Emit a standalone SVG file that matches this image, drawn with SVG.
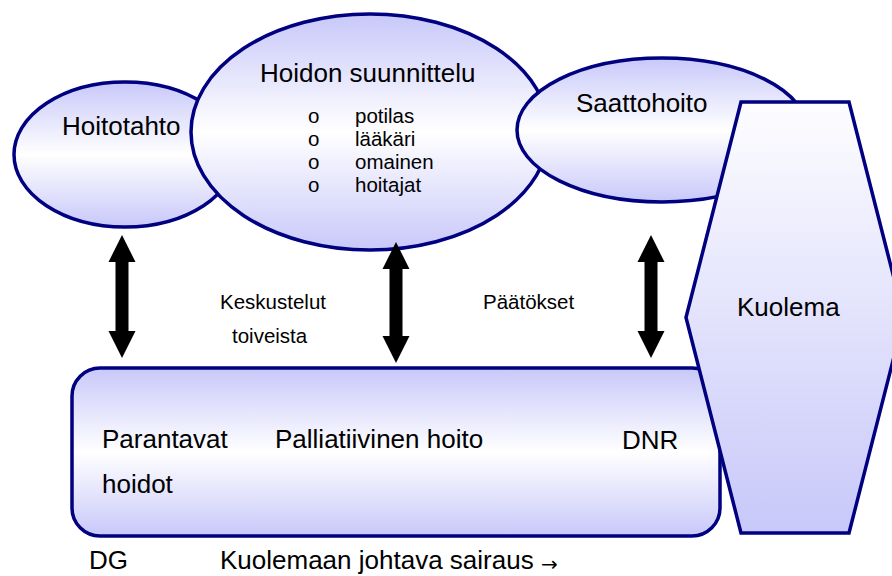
<svg xmlns="http://www.w3.org/2000/svg" width="892" height="576" viewBox="0 0 892 576">
  <style>
    .shape { stroke: #000080; stroke-width: 3.5; }
    .lbl { font-family: "Liberation Sans", Arial, sans-serif; font-size: 26px; fill: #000; }
    .sm { font-family: "Liberation Sans", Arial, sans-serif; font-size: 20.5px; fill: #000; }
    .arrow { fill: #000; stroke: none; }
  </style>
  <defs>
    <linearGradient id="band" x1="0" y1="0" x2="0" y2="1">
      <stop offset="0" stop-color="#c8c8fa"/>
      <stop offset="0.5" stop-color="#ffffff"/>
      <stop offset="1" stop-color="#c8c8fa"/>
    </linearGradient>
    <linearGradient id="fade" x1="0" y1="0" x2="0" y2="1">
      <stop offset="0" stop-color="#fdfdff"/>
      <stop offset="1" stop-color="#c8c8fa"/>
    </linearGradient>
  </defs>

  <rect width="892" height="576" fill="#ffffff"/>

  <g id="hoitotahto">
    <ellipse class="shape" cx="125" cy="154.5" rx="111" ry="72.5" fill="url(#band)"/>
    <text class="lbl" x="62" y="135">Hoitotahto</text>
  </g>

  <g id="hoidon-suunnittelu">
    <ellipse class="shape" cx="370" cy="132" rx="179" ry="118" fill="url(#band)"/>
    <text class="lbl" x="260" y="82">Hoidon suunnittelu</text>
    <g class="sm">
      <text x="308" y="123">o</text>
      <text x="355" y="123">potilas</text>
      <text x="308" y="146">o</text>
      <text x="355" y="146">lääkäri</text>
      <text x="308" y="169">o</text>
      <text x="355" y="169">omainen</text>
      <text x="308" y="192">o</text>
      <text x="355" y="192">hoitajat</text>
    </g>
  </g>

  <g id="saattohoito">
    <ellipse class="shape" cx="662" cy="130" rx="145" ry="72" fill="url(#band)"/>
    <text class="lbl" x="576" y="112">Saattohoito</text>
  </g>

  <g id="hoitopolku">
    <rect class="shape" x="72" y="368" width="648" height="168" rx="28" ry="28" fill="url(#band)"/>
    <text class="lbl" x="102" y="448">Parantavat</text>
    <text class="lbl" x="102" y="493">hoidot</text>
    <text class="lbl" x="275" y="448">Palliatiivinen hoito</text>
    <text class="lbl" x="622" y="449">DNR</text>
  </g>

  <g id="kuolema">
    <polygon class="shape" points="741,102 849,102 904,317.5 849,533 741,533 686,317.5" fill="url(#fade)"/>
    <text class="lbl" x="737" y="316">Kuolema</text>
  </g>

  <g id="connectors">
    <path class="arrow" d="M122,235 L135.5,262 L128.5,262 L128.5,331 L135.5,331 L122,358 L108.5,331 L115.5,331 L115.5,262 L108.5,262 Z"/>
    <path class="arrow" d="M396,242 L409.5,269 L402.5,269 L402.5,336 L409.5,336 L396,363 L382.5,336 L389.5,336 L389.5,269 L382.5,269 Z"/>
    <path class="arrow" d="M651,235 L664.5,262 L657.5,262 L657.5,331 L664.5,331 L651,358 L637.5,331 L644.5,331 L644.5,262 L637.5,262 Z"/>
  </g>

  <g id="nuolitekstit" class="sm">
    <text x="220" y="309">Keskustelut</text>
    <text x="232" y="343">toiveista</text>
    <text x="483" y="309">Päätökset</text>
  </g>

  <g id="aikajana">
    <text class="lbl" x="89" y="569">DG</text>
    <text class="lbl" x="220" y="569">Kuolemaan johtava sairaus <tspan font-family="DejaVu Sans, sans-serif" font-size="20px" dy="2">→</tspan></text>
  </g>
</svg>
